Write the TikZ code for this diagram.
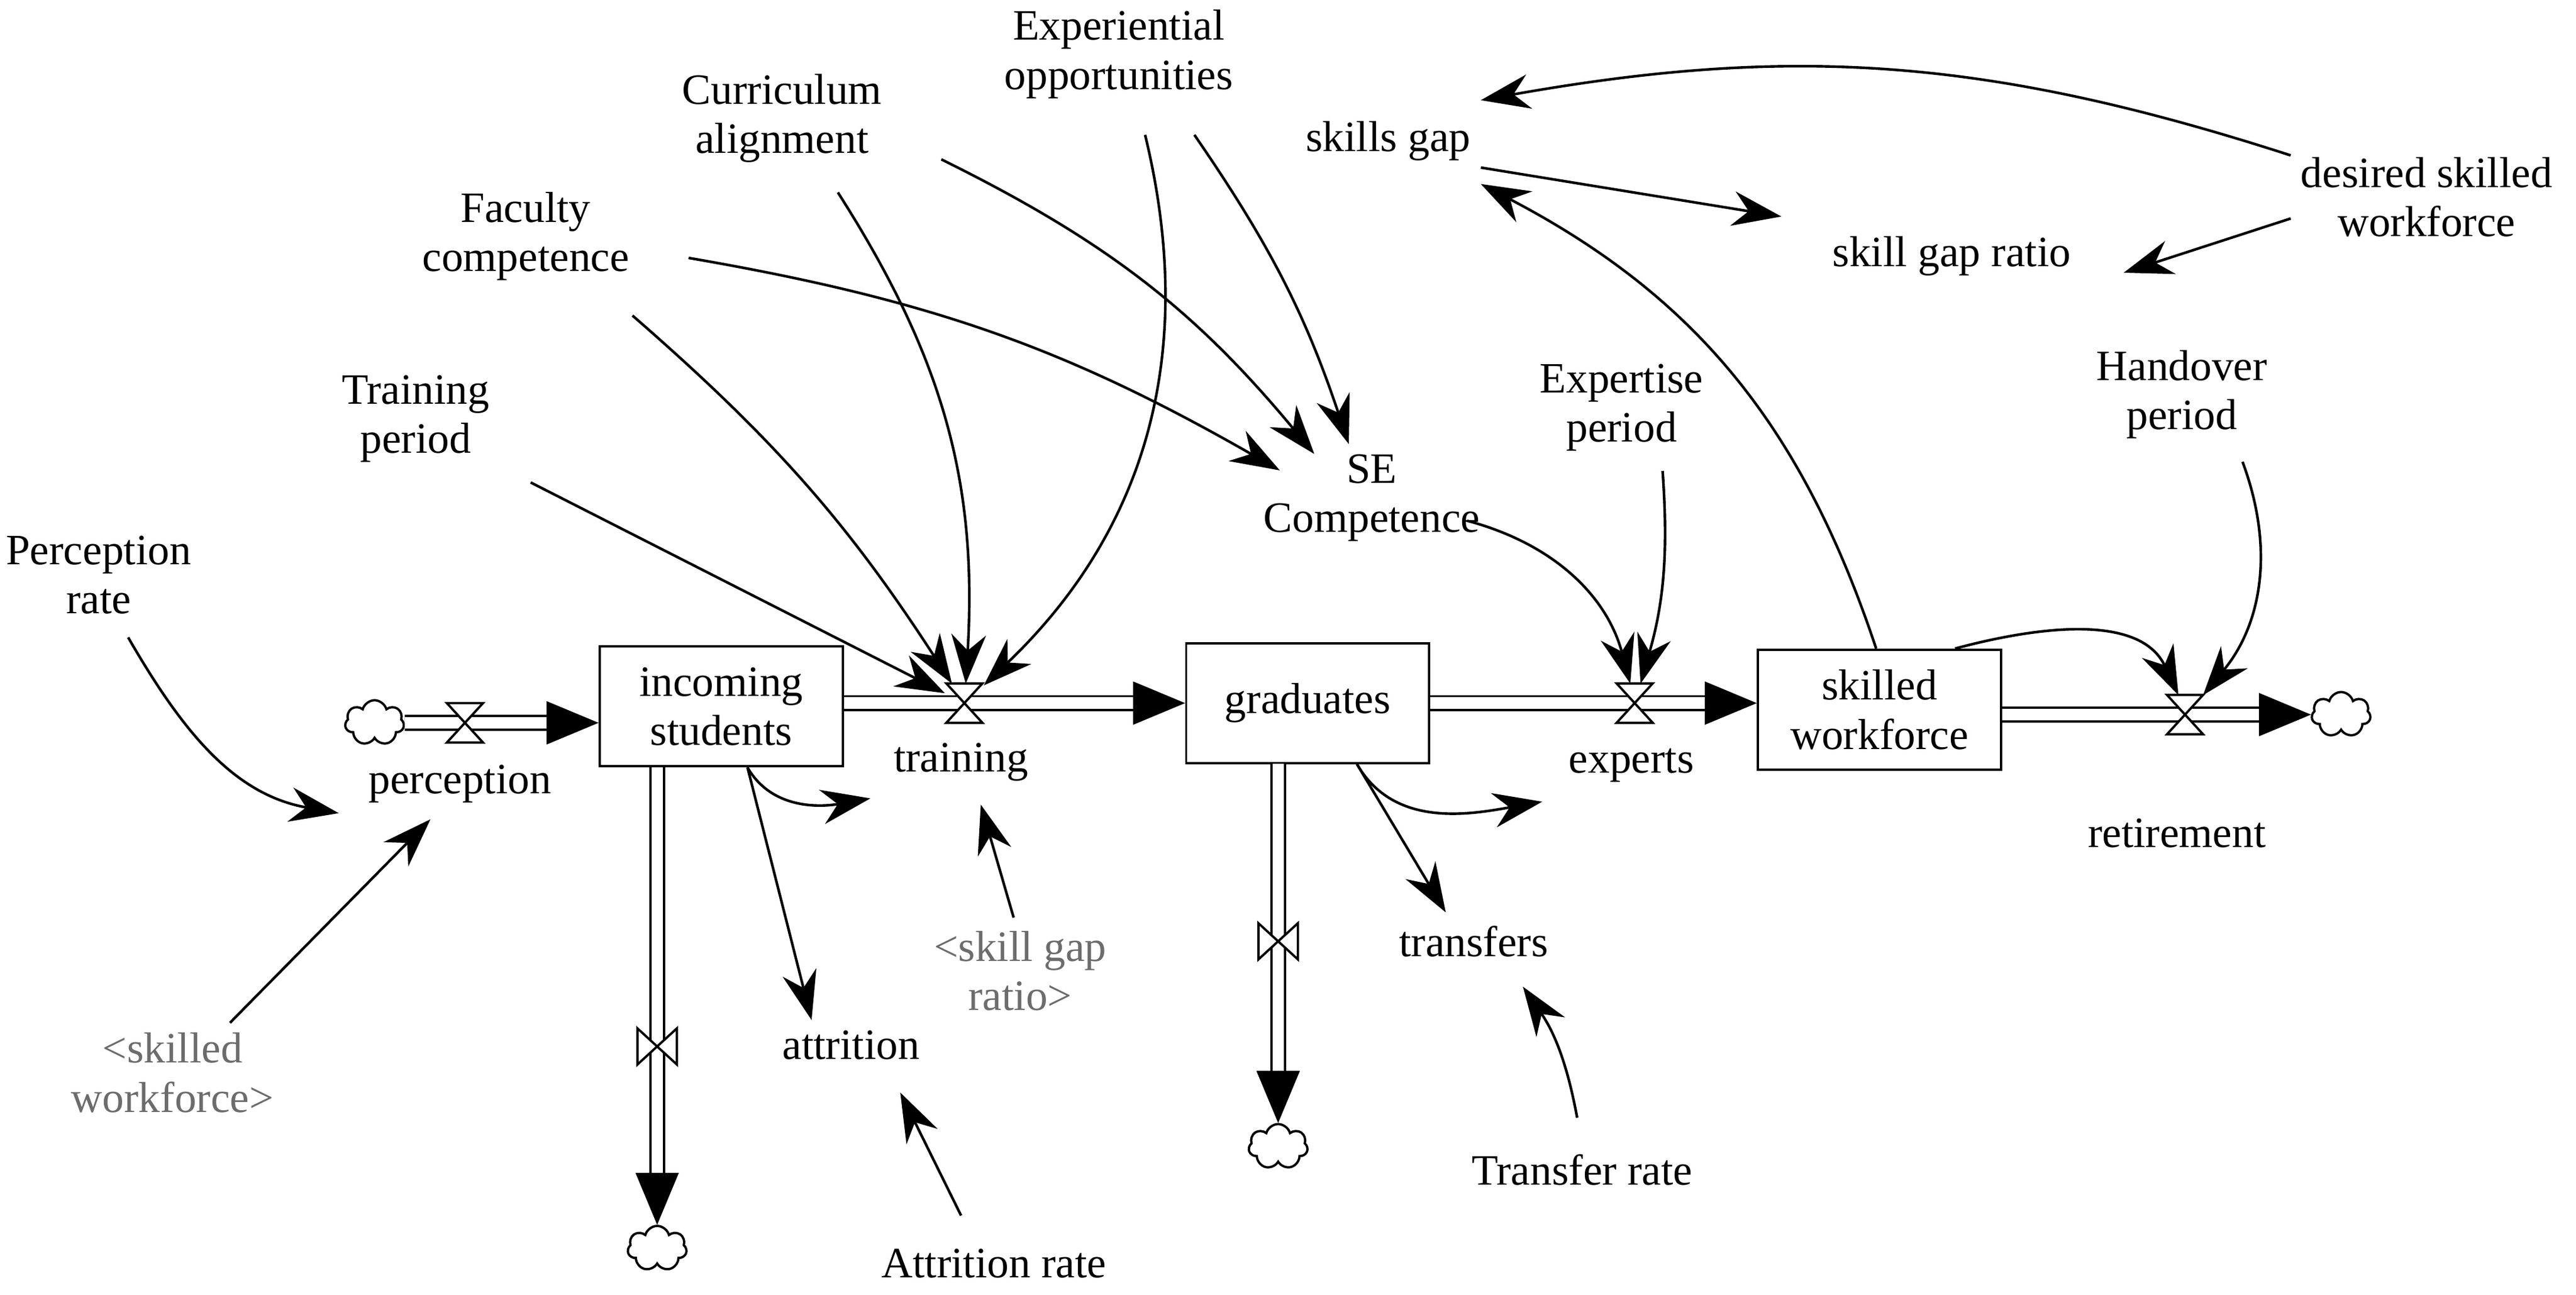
\documentclass[tikz,border=0pt]{standalone}
\usepackage{fontspec}
\setmainfont{Liberation Serif}
\usetikzlibrary{arrows.meta,calc,shapes.symbols}
\tikzset{
  stock/.style={draw, line width=0.8pt, minimum width=2.96cm, minimum height=1.46cm, align=center},
  var/.style={align=center},
  shadow/.style={align=center, text=gray!85!black},
  link/.style={-{Stealth[length=17pt,width=12pt]}, line width=0.9pt},
  pipe/.style={double, double distance=4pt, line width=0.8pt},
  pipehead/.style={-{Triangle[length=18pt,width=15pt]}, line width=0.1pt},
  cloudy/.style={cloud, draw, cloud puffs=7, line width=0.8pt, minimum width=0.72cm, minimum height=0.55cm, inner sep=0pt},
  valvenode/.style={inner sep=0pt, minimum size=0.46cm},
  valve/.style={draw, fill=white, line width=0.8pt}
}
\newcommand{\hvalve}[1]{\draw[valve] ($(#1)+(-11,12)$) -- ($(#1)+(11,12)$) -- ($(#1)+(-11,-12)$) -- ($(#1)+(11,-12)$) -- cycle;}
\newcommand{\vvalve}[1]{\draw[valve] ($(#1)+(-12,11)$) -- ($(#1)+(-12,-11)$) -- ($(#1)+(12,11)$) -- ($(#1)+(12,-11)$) -- cycle;}
\newcommand{\pipeto}[2]{\draw[pipe, shorten >=16pt] (#1) -- (#2); \draw[pipehead] ($(#2)!18pt!(#1)$) -- (#2);}
\begin{document}
\begin{tikzpicture}[x=0.02cm, y=0.02cm, font=\fontsize{15}{17}\selectfont]
\useasboundingbox (0,0) rectangle (1568,-788);

% stocks and clouds
\node[stock] (inc) at (439,-430) {incoming\\students};
\node[stock] (grad) at (796,-428) {graduates};
\node[stock] (skw) at (1144,-432) {skilled\\workforce};
\node[cloudy] (cl1) at (228,-440) {};
\node[cloudy] (cl2) at (400,-760) {};
\node[cloudy] (cl3) at (778,-698) {};
\node[cloudy] (cl4) at (1425,-435) {};
\coordinate (incb) at (400,-467);
\coordinate (gradb) at (778,-465);

% valves
\node[valvenode] (vper) at (283,-440) {};
\node[valvenode] (vtr) at (587,-428) {};
\node[valvenode] (vex) at (995,-428) {};
\node[valvenode] (vret) at (1330,-435) {};
\node[valvenode] (vatt) at (400,-637) {};
\node[valvenode] (vtrf) at (778,-573) {};

% flows
\pipeto{cl1.east}{inc.west |- cl1}
\pipeto{inc.east |- grad}{grad.west}
\pipeto{grad.east}{skw.west |- grad}
\pipeto{skw.east |- cl4}{cl4.west}
\pipeto{incb}{cl2.north}
\pipeto{gradb}{cl3.north}
\hvalve{vper} \hvalve{vtr} \hvalve{vex} \hvalve{vret}
\vvalve{vatt} \vvalve{vtrf}

% flow labels
\node[var] (perc) at (280,-477) {perception};
\node[var] (trl) at (585,-464) {training};
\node[var] (exl) at (993,-466) {experts};
\node[var] (ret) at (1325,-507) {retirement};
\node[var] (attr) at (518,-636) {attrition};
\node[var] (trf) at (897,-573) {transfers};

% variables
\node[var] (prate) at (60,-350) {Perception\\rate};
\node[shadow] (sw) at (105,-653) {<skilled\\workforce>};
\node[var] (tp) at (253,-255) {Training\\period};
\node[var] (fc) at (320,-144) {Faculty\\competence};
\node[var] (ca) at (476,-72) {Curriculum\\alignment};
\node[var] (eo) at (681,-33) {Experiential\\opportunities};
\node[var] (sec) at (835,-303) {SE\\Competence};
\node[var] (sg) at (845,-86) {skills gap};
\node[var] (sgr) at (1188,-156) {skill gap ratio};
\node[var] (dsw) at (1477,-120) {desired skilled\\workforce};
\node[var] (ep) at (987,-248) {Expertise\\period};
\node[var] (hp) at (1328,-240) {Handover\\period};
\node[shadow] (sgr2) at (621,-591) {<skill gap\\ratio>};
\node[var] (ar) at (605,-769) {Attrition rate};
\node[var] (tr) at (963,-712) {Transfer rate};

% links
\draw[link] (prate.south) ++(18,-8) to[out=-60,in=170] ($(perc.west)+(-12,-18)$);
\draw[link] ($(sw.north)+(35,0)$) -- ($(perc.south)+(-18,-4)$);
\draw[link] ($(tp.south)+(70,-6)$) -- (vtr);
\draw[link] ($(fc.south)+(65,-15)$) to[bend left=8] (vtr);
\draw[link] ($(ca.south)+(34,-12)$) to[bend left=18] (vtr);
\draw[link] ($(eo.south)+(16,-16)$) to[bend left=30] (vtr);
\draw[link] ($(eo.south)+(46,-16)$) to[bend left=8] ($(sec.north)+(-14,0)$);
\draw[link] ($(ca.east)+(30,-25)$) to[bend left=12] ($(sec.north)+(-35,-6)$);
\draw[link] ($(fc.east)+(30,-13)$) to[bend left=10] ($(sec.north)+(-56,-16)$);
\draw[link] ($(sec.east)+(-14,-14)$) to[bend left=30] (vex);
\draw[link] ($(ep.south)+(25,-6)$) to[bend left=10] (vex);
\draw[link] (sg.east) ++(0,-16) -- ($(sgr.north west)+(-25,6)$);
\draw[link] ($(dsw.west)+(0,-13)$) -- ($(sgr.east)+(26,-10)$);
\draw[link] ($(dsw.north west)+(0,-5)$) to[bend right=14] ($(sg.east)+(0,25)$);
\draw[link] ($(skw.north)+(-2,0)$) to[bend right=22] ($(sg.east)+(0,-26)$);
\draw[link] ($(skw.north)+(46,0)$) to[out=15,in=115] ($(vret.north)+(-4,0)$);
\draw[link] ($(hp.south)+(37,-8)$) to[bend left=30] (vret);
\draw[link] ($(inc.south)+(16,0)$) -- (attr.north -| 494,0);
\draw[link] ($(inc.south)+(16,0)$) to[out=-60,in=190] ($(trl.west)+(-8,-22)$);
\draw[link] ($(sgr2.north)+(-4,2)$) -- ($(trl.south)+(12,-8)$);
\draw[link] ($(ar.north)+(-20,14)$) -- ($(attr.south)+(30,-14)$);
\draw[link] ($(grad.south)+(30,0)$) -- ($(trf.north)+(-17,2)$);
\draw[link] ($(grad.south)+(30,0)$) to[out=-60,in=190] ($(exl.west)+(-10,-22)$);
\draw[link] ($(tr.north)+(-3,16)$) to[bend right=12] ($(trf.south)+(30,-12)$);
\end{tikzpicture}
\end{document}
